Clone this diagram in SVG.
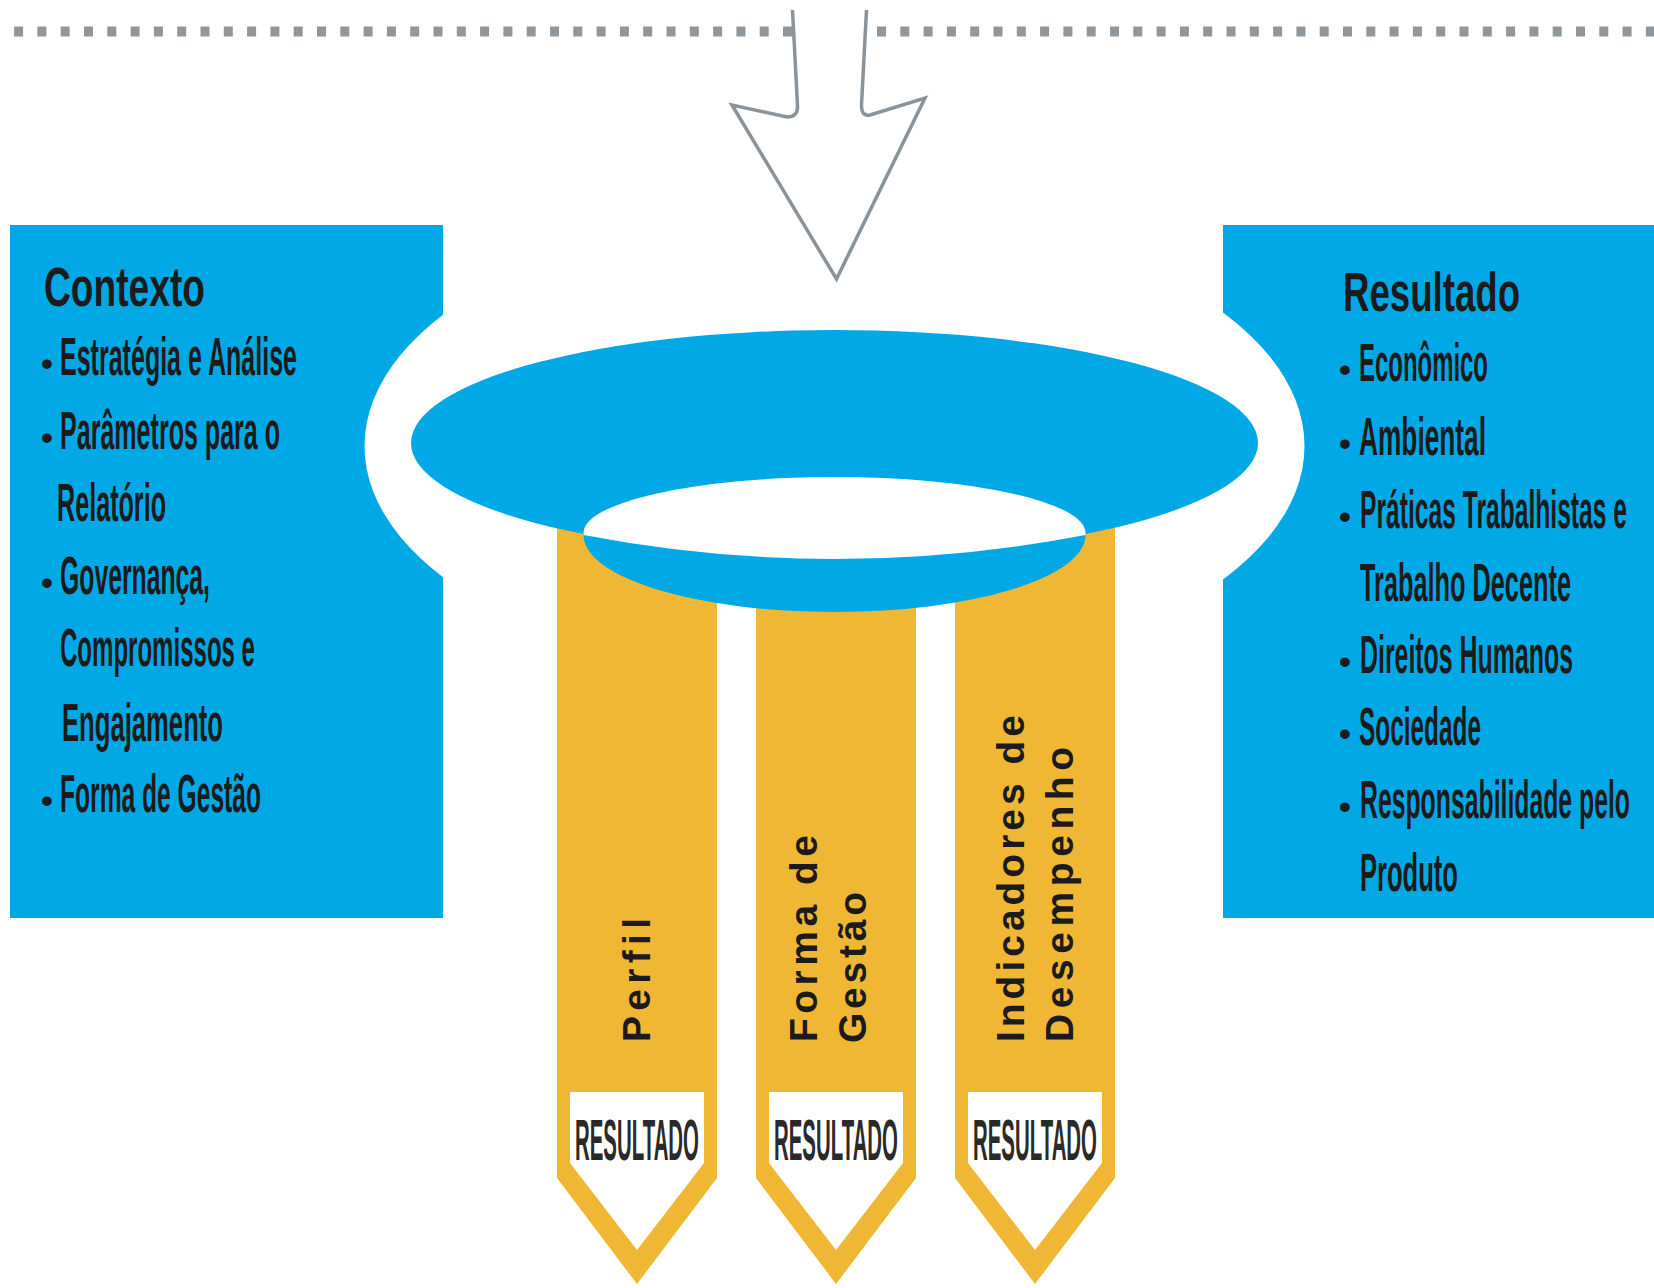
<svg xmlns="http://www.w3.org/2000/svg" width="1654" height="1288" viewBox="0 0 1654 1288">
<style>
.blue{fill:#00a9e6}
.gold{fill:#efb734}
.white{fill:#ffffff}
.t{font-family:"Liberation Sans",Arial,sans-serif;font-weight:bold;fill:#1b1b1b}
.title{font-size:56px}
.item{font-size:54px}
.bul{font-size:34px}
.vt{font-size:39px}
.res{font-size:58px;fill:#2a2a2a}
.dots{fill:none;stroke:#8f979d;stroke-width:10;stroke-dasharray:9 14.3}
.arrow{fill:none;stroke:#8a939a;stroke-width:3.5;stroke-linejoin:miter}
</style>
<rect width="1654" height="1288" fill="#ffffff"/>

<g id="contexto">
<rect class="blue" x="10" y="225" width="433" height="693"/>
</g>
<g id="resultado">
<rect class="blue" x="1223" y="225" width="431" height="693"/>
</g>

<g id="ring-halo">
<ellipse class="white" cx="834.5" cy="446" rx="470" ry="237"/>
</g>

<g id="bar-perfil">
<path class="gold" d="M557 520 H717 V1178 L637 1284 L557 1178 Z"/>
<path class="white" d="M570 1092 H704 V1163 L637 1250 L570 1163 Z"/>
<text class="t res" transform="matrix(0.343 0 0 1 575 1160)" textLength="361.5" lengthAdjust="spacingAndGlyphs">RESULTADO</text>
<text class="t vt" x="650" y="1042" transform="rotate(-90 650 1042)" textLength="124" lengthAdjust="spacing">Perfil</text>
</g>
<g id="bar-forma">
<path class="gold" d="M756 520 H916 V1178 L836 1284 L756 1178 Z"/>
<path class="white" d="M769 1092 H903 V1163 L836 1250 L769 1163 Z"/>
<text class="t res" transform="matrix(0.343 0 0 1 774 1160)" textLength="361.5" lengthAdjust="spacingAndGlyphs">RESULTADO</text>
<text class="t vt" x="817" y="1042" transform="rotate(-90 817 1042)" textLength="207" lengthAdjust="spacing">Forma de</text>
<text class="t vt" x="866" y="1043" transform="rotate(-90 866 1043)" textLength="151" lengthAdjust="spacing">Gestão</text>
</g>
<g id="bar-indicadores">
<path class="gold" d="M955 520 H1115 V1178 L1035 1284 L955 1178 Z"/>
<path class="white" d="M968 1092 H1102 V1163 L1035 1250 L968 1163 Z"/>
<text class="t res" transform="matrix(0.343 0 0 1 973 1160)" textLength="361.5" lengthAdjust="spacingAndGlyphs">RESULTADO</text>
<text class="t vt" x="1024" y="1042" transform="rotate(-90 1024 1042)" textLength="327" lengthAdjust="spacing">Indicadores de</text>
<text class="t vt" x="1073" y="1042" transform="rotate(-90 1073 1042)" textLength="295" lengthAdjust="spacing">Desempenho</text>
</g>

<g id="ring">
<ellipse class="blue" cx="834.5" cy="443" rx="423.5" ry="113"/>
<ellipse class="white" cx="834.5" cy="533" rx="251" ry="56"/>
<path class="blue" d="M583.5 535 Q834.5 583 1085.5 535 A251 77 0 0 1 583.5 535 Z"/>
</g>

<g id="contexto-text">
<text class="t title" transform="matrix(0.67 0 0 1 44 306)" textLength="240.3" lengthAdjust="spacingAndGlyphs">Contexto</text>
<text class="t bul" x="41" y="375">•</text>
<text class="t item" transform="matrix(0.46 0 0 1 60 375)" textLength="515.2" lengthAdjust="spacingAndGlyphs">Estratégia e Análise</text>
<text class="t bul" x="41" y="449">•</text>
<text class="t item" transform="matrix(0.46 0 0 1 60 449)" textLength="478.3" lengthAdjust="spacingAndGlyphs">Parâmetros para o</text>
<text class="t item" transform="matrix(0.46 0 0 1 57 521)" textLength="237" lengthAdjust="spacingAndGlyphs">Relatório</text>
<text class="t bul" x="41" y="594">•</text>
<text class="t item" transform="matrix(0.46 0 0 1 60 594)" textLength="326.1" lengthAdjust="spacingAndGlyphs">Governança,</text>
<text class="t item" transform="matrix(0.46 0 0 1 60 666)" textLength="423.9" lengthAdjust="spacingAndGlyphs">Compromissos e</text>
<text class="t item" transform="matrix(0.46 0 0 1 62 741)" textLength="350" lengthAdjust="spacingAndGlyphs">Engajamento</text>
<text class="t bul" x="41" y="812">•</text>
<text class="t item" transform="matrix(0.46 0 0 1 60 812)" textLength="437" lengthAdjust="spacingAndGlyphs">Forma de Gestão</text>
</g>

<g id="resultado-text">
<text class="t title" transform="matrix(0.67 0 0 1 1343 311)" textLength="264.2" lengthAdjust="spacingAndGlyphs">Resultado</text>
<text class="t bul" x="1339" y="381">•</text>
<text class="t item" transform="matrix(0.46 0 0 1 1359 381)" textLength="280.4" lengthAdjust="spacingAndGlyphs">Econômico</text>
<text class="t bul" x="1339" y="455">•</text>
<text class="t item" transform="matrix(0.46 0 0 1 1359 455)" textLength="276.1" lengthAdjust="spacingAndGlyphs">Ambiental</text>
<text class="t bul" x="1339" y="528">•</text>
<text class="t item" transform="matrix(0.46 0 0 1 1360 528)" textLength="580.4" lengthAdjust="spacingAndGlyphs">Práticas Trabalhistas e</text>
<text class="t item" transform="matrix(0.46 0 0 1 1360 601)" textLength="458.7" lengthAdjust="spacingAndGlyphs">Trabalho Decente</text>
<text class="t bul" x="1339" y="673">•</text>
<text class="t item" transform="matrix(0.46 0 0 1 1360 673)" textLength="463" lengthAdjust="spacingAndGlyphs">Direitos Humanos</text>
<text class="t bul" x="1339" y="745">•</text>
<text class="t item" transform="matrix(0.46 0 0 1 1359 745)" textLength="265.2" lengthAdjust="spacingAndGlyphs">Sociedade</text>
<text class="t bul" x="1339" y="818">•</text>
<text class="t item" transform="matrix(0.46 0 0 1 1360 818)" textLength="587" lengthAdjust="spacingAndGlyphs">Responsabilidade pelo</text>
<text class="t item" transform="matrix(0.46 0 0 1 1360 891)" textLength="213" lengthAdjust="spacingAndGlyphs">Produto</text>
</g>

<g id="divider">
<path class="dots" d="M792 31.5 L0 31.5"/>
<path class="dots" d="M877 31.5 L1654 31.5"/>
</g>

<g id="connectors">
<path class="arrow" d="M792.5 10 L797.5 106 Q798 117 787 117 L732 105 L836.5 279 L925 98 L870 115 Q861.5 117 861.5 105 L866.5 10"/>
</g>
</svg>
